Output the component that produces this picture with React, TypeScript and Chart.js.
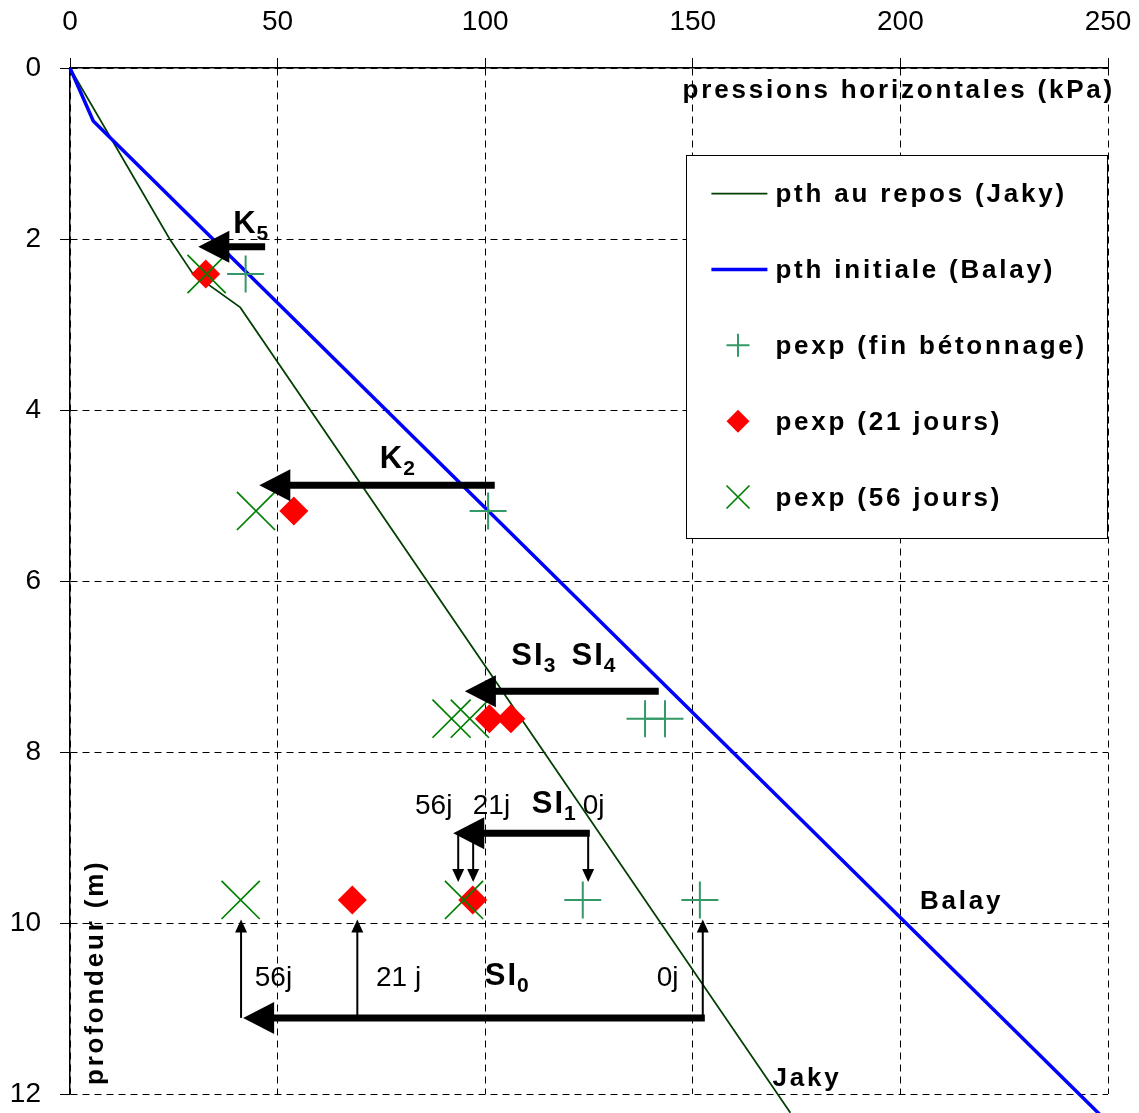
import React, { useEffect, useRef } from 'react';
import { Chart, registerables } from 'chart.js';

Chart.register(...registerables);

const FONT = '"Liberation Sans", Arial, Helvetica, sans-serif';

// Axes
const xTickValues = [0, 50, 100, 150, 200, 250];
const yTickValues = [0, 2, 4, 6, 8, 10, 12];
const xTitle = 'pressions horizontales (kPa)';
const yTitle = 'profondeur (m)';

// Theoretical curves (pressure kPa, depth m)
const jakyP = [0, 24, 29.5, 41, 173.5];
const jakyZ = [0, 2.0, 2.4, 2.8, 12.22];
const balayP = [0, 5.6, 249.3];
const balayZ = [0, 0.62, 12.3];

// Measurements
const finP = [42.3, 100.7, 138.5, 143.3, 123.5, 151.7];
const finZ = [2.41, 5.18, 7.61, 7.61, 9.73, 9.73];
const j21P = [32.7, 53.9, 101, 106.2, 68, 97];
const j21Z = [2.41, 5.18, 7.61, 7.61, 9.73, 9.73];
const j56P = [32.9, 44.8, 91.9, 96.3, 41.1, 94.9];
const j56Z = [2.41, 5.18, 7.61, 7.61, 9.73, 9.73];

const legendLabels = [
  'pth au repos (Jaky)',
  'pth initiale (Balay)',
  'pexp (fin bétonnage)',
  'pexp (21 jours)',
  'pexp (56 jours)',
];

// Big horizontal arrows (tail -> tip) at depth
const bigArrowTail = [47, 102.3, 141.8, 125.2, 152.9];
const bigArrowTip = [30.9, 45.6, 95.1, 92.3, 41.7];
const bigArrowZ = [2.09, 4.88, 7.29, 8.95, 11.11];

// Small vertical arrows
const downArrowP = [93.5, 97.1, 124.8];
const downArrowFromZ = 8.95;
const downArrowToZ = 9.52;
const upArrowP = [41.2, 69.2, 152.4];
const upArrowFromZ = 11.11;
const upArrowToZ = 9.96;

// Bold labels with subscripts
const noteText = ['K', 'K', 'SI', 'SI', 'SI', 'SI'];
const noteSub = ['5', '2', '3', '4', '1', '0'];
const noteP = [39.3, 74.6, 106.3, 120.8, 111.2, 99.9];
const noteZ = [1.93, 4.68, 6.98, 6.98, 8.71, 10.73];

// Regular day labels
const dayText = ['56j', '21j', '0j', '56j', '21 j', '0j'];
const dayP = [83.1, 97, 123.5, 44.5, 73.7, 141.3];
const dayZ = [8.72, 8.72, 8.72, 10.74, 10.74, 10.74];

// Curve names
const curveText = ['Balay', 'Jaky'];
const curveP = [204.7, 169.2];
const curveZ = [9.84, 11.91];

const JAKY = '#003f00';
const BLUE = '#0000ff';
const PLUS = '#339966';
const RED = '#ff0000';
const XGREEN = '#008000';

function pts(p: number[], z: number[]) {
  return p.map((v, i) => ({ x: v, y: z[i] }));
}

function arrow(ctx: CanvasRenderingContext2D, x1: number, y1: number, x2: number, y2: number, w: number, hl: number, hw: number) {
  const a = Math.atan2(y2 - y1, x2 - x1);
  const bx = x2 - Math.cos(a) * hl;
  const by = y2 - Math.sin(a) * hl;
  ctx.beginPath();
  ctx.moveTo(x1, y1);
  ctx.lineTo(bx + Math.cos(a) * 1, by + Math.sin(a) * 1);
  ctx.lineWidth = w;
  ctx.strokeStyle = '#000';
  ctx.lineCap = 'butt';
  ctx.stroke();
  ctx.beginPath();
  ctx.moveTo(x2, y2);
  ctx.lineTo(bx + Math.sin(a) * hw, by - Math.cos(a) * hw);
  ctx.lineTo(bx - Math.sin(a) * hw, by + Math.cos(a) * hw);
  ctx.closePath();
  ctx.fillStyle = '#000';
  ctx.fill();
}

function zeroPad(s: any) {
  s.paddingLeft = 0;
  s.paddingRight = 0;
  s.paddingTop = 0;
  s.paddingBottom = 0;
}

const overlay = {
  id: 'overlay',
  afterDatasetsDraw(chart: any) {
    const ctx: CanvasRenderingContext2D = chart.ctx;
    const xs = chart.scales.x;
    const ys = chart.scales.y;
    const X = (v: number) => xs.getPixelForValue(v);
    const Y = (v: number) => ys.getPixelForValue(v);
    const ca = chart.chartArea;
    ctx.save();

    // arrows
    for (let i = 0; i < bigArrowTail.length; i++) {
      arrow(ctx, X(bigArrowTail[i]), Y(bigArrowZ[i]), X(bigArrowTip[i]), Y(bigArrowZ[i]), 7, 31, 16);
    }
    for (const p of downArrowP) {
      arrow(ctx, X(p), Y(downArrowFromZ), X(p), Y(downArrowToZ), 2, 13, 6);
    }
    for (const p of upArrowP) {
      arrow(ctx, X(p), Y(upArrowFromZ), X(p), Y(upArrowToZ), 2, 13, 6);
    }

    // bold labels with subscripts
    ctx.fillStyle = '#000';
    ctx.textBaseline = 'alphabetic';
    ctx.textAlign = 'left';
    for (let i = 0; i < noteText.length; i++) {
      const x = X(noteP[i]);
      const y = Y(noteZ[i]);
      ctx.font = `bold 31px ${FONT}`;
      (ctx as any).letterSpacing = '2px';
      ctx.fillText(noteText[i], x, y);
      const w = ctx.measureText(noteText[i]).width;
      ctx.font = `bold 21px ${FONT}`;
      (ctx as any).letterSpacing = '0px';
      ctx.fillText(noteSub[i], x + w - 1, y + 7);
    }

    // day labels
    ctx.font = `28px ${FONT}`;
    (ctx as any).letterSpacing = '0px';
    for (let i = 0; i < dayText.length; i++) {
      ctx.fillText(dayText[i], X(dayP[i]), Y(dayZ[i]));
    }

    // curve names
    ctx.font = `bold 26px ${FONT}`;
    (ctx as any).letterSpacing = '2.8px';
    for (let i = 0; i < curveText.length; i++) {
      ctx.fillText(curveText[i], X(curveP[i]), Y(curveZ[i]));
    }

    // axis titles
    ctx.textAlign = 'right';
    ctx.fillText(xTitle, ca.right + 7, ca.top + 30);
    ctx.save();
    ctx.translate(ca.left + 33, ca.bottom - 9);
    ctx.rotate(-Math.PI / 2);
    ctx.textAlign = 'left';
    ctx.fillText(yTitle, 0, 0);
    ctx.restore();

    // legend
    const L = ca.right - 421.6;
    const T = ca.top + 87;
    ctx.fillStyle = '#fff';
    ctx.fillRect(L, T, 421.6, 383);
    ctx.strokeStyle = '#000';
    ctx.lineWidth = 1;
    ctx.strokeRect(Math.round(L) + 0.5, Math.round(T) + 0.5, 421, 383);
    for (let i = 0; i < legendLabels.length; i++) {
      const ry = T + 38.6 + i * 75.85;
      const mx = L + 51.6;
      ctx.lineCap = 'butt';
      if (i === 0 || i === 1) {
        ctx.beginPath();
        ctx.moveTo(L + 25, ry);
        ctx.lineTo(L + 81, ry);
        ctx.strokeStyle = i === 0 ? JAKY : BLUE;
        ctx.lineWidth = i === 0 ? 1.7 : 3.5;
        ctx.stroke();
      } else if (i === 2) {
        ctx.beginPath();
        ctx.moveTo(mx - 11.5, ry);
        ctx.lineTo(mx + 11.5, ry);
        ctx.moveTo(mx, ry - 11.5);
        ctx.lineTo(mx, ry + 11.5);
        ctx.strokeStyle = PLUS;
        ctx.lineWidth = 2;
        ctx.stroke();
      } else if (i === 3) {
        ctx.beginPath();
        ctx.moveTo(mx - 11.5, ry);
        ctx.lineTo(mx, ry - 11.5);
        ctx.lineTo(mx + 11.5, ry);
        ctx.lineTo(mx, ry + 11.5);
        ctx.closePath();
        ctx.fillStyle = RED;
        ctx.fill();
      } else {
        ctx.beginPath();
        ctx.moveTo(mx - 11.5, ry - 11.5);
        ctx.lineTo(mx + 11.5, ry + 11.5);
        ctx.moveTo(mx + 11.5, ry - 11.5);
        ctx.lineTo(mx - 11.5, ry + 11.5);
        ctx.strokeStyle = XGREEN;
        ctx.lineWidth = 1.7;
        ctx.stroke();
      }
      ctx.fillStyle = '#000';
      ctx.textAlign = 'left';
      ctx.font = `bold 26px ${FONT}`;
      (ctx as any).letterSpacing = '2.8px';
      ctx.fillText(legendLabels[i], L + 89, ry + 8.5);
    }
    (ctx as any).letterSpacing = '0px';
    ctx.restore();
  },
};

export default function App() {
  const ref = useRef<HTMLCanvasElement | null>(null);
  useEffect(() => {
    if (!ref.current) return;
    const chart = new Chart(ref.current, {
      type: 'scatter',
      data: {
        datasets: [
          {
            label: legendLabels[0],
            data: pts(jakyP, jakyZ),
            showLine: true,
            borderColor: JAKY,
            backgroundColor: JAKY,
            borderWidth: 1.7,
            pointRadius: 0,
            clip: false,
            order: 5,
          } as any,
          {
            label: legendLabels[1],
            data: pts(balayP, balayZ),
            showLine: true,
            borderColor: BLUE,
            backgroundColor: BLUE,
            borderWidth: 3.5,
            pointRadius: 0,
            clip: false,
            order: 4,
          } as any,
          {
            label: legendLabels[2],
            data: pts(finP, finZ),
            pointStyle: 'cross',
            pointRadius: 18.5,
            borderColor: PLUS,
            backgroundColor: PLUS,
            pointBorderWidth: 2,
            borderWidth: 2,
            order: 3,
          } as any,
          {
            label: legendLabels[3],
            data: pts(j21P, j21Z),
            pointStyle: 'rectRot',
            pointRadius: 14.5,
            borderColor: RED,
            backgroundColor: RED,
            borderWidth: 0,
            pointBorderWidth: 0,
            order: 2,
          } as any,
          {
            label: legendLabels[4],
            data: pts(j56P, j56Z),
            pointStyle: 'crossRot',
            pointRadius: 27,
            borderColor: XGREEN,
            backgroundColor: XGREEN,
            pointBorderWidth: 1.7,
            borderWidth: 1.7,
            order: 1,
          } as any,
        ],
      },
      options: {
        responsive: false,
        animation: false,
        layout: { autoPadding: false, padding: { left: 0, top: 0, right: 31, bottom: 19 } },
        plugins: { legend: { display: false }, tooltip: { enabled: false } },
        scales: {
          x: {
            type: 'linear',
            position: 'top',
            min: 0,
            max: 250,
            afterFit: (s: any) => { s.height = 68; zeroPad(s); },
            afterBuildTicks: (s: any) => { s.ticks = xTickValues.map((v) => ({ value: v })); },
            ticks: { color: '#000', font: { family: FONT, size: 28 }, padding: 19, maxRotation: 0 },
            grid: { color: '#000', lineWidth: 1, tickLength: 10, tickColor: '#000', tickWidth: 1, borderDash: [7, 5] },
            border: { display: true, color: '#000', width: 1.5, dash: [7, 5] },
          } as any,
          y: {
            type: 'linear',
            reverse: true,
            min: 0,
            max: 12,
            afterFit: (s: any) => { s.width = 70; zeroPad(s); },
            afterBuildTicks: (s: any) => { s.ticks = yTickValues.map((v) => ({ value: v })); },
            ticks: { color: '#000', font: { family: FONT, size: 28 }, padding: 19 },
            grid: { color: '#000', lineWidth: 1, tickLength: 10, tickColor: '#000', tickWidth: 1, borderDash: [7, 5] },
            border: { display: true, color: '#000', width: 1.5, dash: [7, 5] },
          } as any,
        },
      },
      plugins: [overlay],
    });
    return () => chart.destroy();
  }, []);
  return (
    <div style={{ position: 'absolute', left: 0, top: 0, width: 1139, height: 1113, background: '#fff' }}>
      <canvas ref={ref} width={1139} height={1113} style={{ display: 'block', width: 1139, height: 1113 }} />
    </div>
  );
}
